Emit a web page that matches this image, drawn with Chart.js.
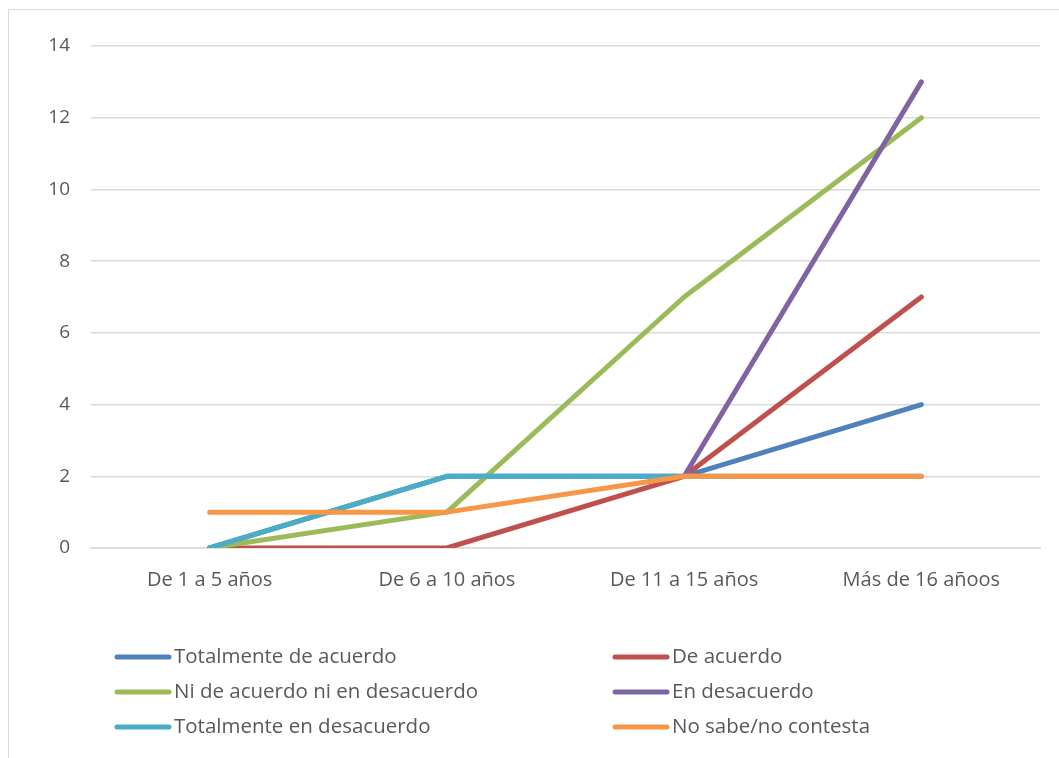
<!DOCTYPE html>
<html>
<head>
<meta charset="utf-8">
<script src="https://cdn.jsdelivr.net/npm/chart.js@4"></script>
<style>
  body { margin: 0; background: #fff; }
  #wrap { position: relative; width: 1059px; height: 758px; overflow: hidden; }
  #frame { position: absolute; left: 8px; top: 9px; width: 1100px; height: 800px; border: 1px solid #d9d9d9; }
  canvas { position: absolute; left: 0; top: 0; }
</style>
</head>
<body>
<div id="wrap">
  <div id="frame"></div>
  <canvas id="lineChart" width="1059" height="758"></canvas>
</div>
<script>
// Antigüedad en años y respuestas por grado de acuerdo
const categories = ['De 1 a 5 años', 'De 6 a 10 años', 'De 11 a 15 años', 'Más de 16 añoos'];
const seriesNames = [
    'Totalmente de acuerdo',
    'De acuerdo',
    'Ni de acuerdo ni en desacuerdo',
    'En desacuerdo',
    'Totalmente en desacuerdo',
    'No sabe/no contesta'
];
const totalmenteDeAcuerdo = [0, 2, 2, 4];
const deAcuerdo = [0, 0, 2, 7];
const niDeAcuerdo = [0, 1, 7, 12];
const enDesacuerdo = [null, null, 2, 13];
const totalmenteEnDesacuerdo = [0, 2, 2, 2];
const noSabe = [1, 1, 2, 2];
const yTicks = [0, 2, 4, 6, 8, 10, 12, 14];

const seriesValues = [totalmenteDeAcuerdo, deAcuerdo, niDeAcuerdo, enDesacuerdo, totalmenteEnDesacuerdo, noSabe];
const colors = ['#4F81BD', '#C0504D', '#9BBB59', '#8064A2', '#4BACC6', '#F79646'];
const textColor = '#595959';
const fontFamily = "'Open Sans', 'Liberation Sans', sans-serif";

// Leyenda en dos columnas debajo del gráfico
const legendPlugin = {
    id: 'twoColLegend',
    afterDraw(chart) {
        const ctx = chart.ctx;
        const cols = [115, 613];
        const rows = [657, 692, 727];
        ctx.save();
        ctx.font = '20.5px ' + fontFamily;
        ctx.textBaseline = 'middle';
        ctx.lineCap = 'round';
        chart.data.datasets.forEach((ds, i) => {
            const x = cols[i % 2];
            const y = rows[Math.floor(i / 2)];
            ctx.strokeStyle = ds.borderColor;
            ctx.lineWidth = 5;
            ctx.beginPath();
            ctx.moveTo(x + 2, y);
            ctx.lineTo(x + 54, y);
            ctx.stroke();
            ctx.fillStyle = textColor;
            ctx.fillText(ds.label, x + 59, y);
        });
        ctx.restore();
    }
};

const datasets = seriesNames.map((name, i) => ({
    label: name,
    data: seriesValues[i],
    borderColor: colors[i],
    backgroundColor: colors[i],
    borderWidth: 5,
    borderCapStyle: 'round',
    borderJoinStyle: 'round',
    pointRadius: 0,
    tension: 0,
    fill: false,
    spanGaps: false,
    order: seriesNames.length - i
}));

new Chart(document.getElementById('lineChart').getContext('2d'), {
    type: 'line',
    data: { labels: categories, datasets: datasets },
    options: {
        responsive: false,
        animation: false,
        layout: { padding: { left: 0, right: 19, top: 46, bottom: 0 } },
        scales: {
            x: {
                offset: true,
                grid: { display: false, drawTicks: false },
                border: { display: true, color: '#d9d9d9', width: 1.5 },
                ticks: {
                    color: textColor,
                    padding: 20,
                    font: { family: fontFamily, size: 20 },
                    maxRotation: 0
                },
                afterFit: (axis) => { axis.height = 210; }
            },
            y: {
                min: 0,
                max: 14,
                afterBuildTicks: (axis) => { axis.ticks = yTicks.map(v => ({ value: v })); },
                grid: { color: '#d9d9d9', lineWidth: 1.5, drawTicks: false },
                border: { display: false },
                ticks: {
                    color: textColor,
                    padding: 21,
                    font: { family: fontFamily, size: 19 }
                },
                afterFit: (axis) => { axis.width = 91; }
            }
        },
        plugins: {
            legend: { display: false },
            tooltip: { enabled: false }
        }
    },
    plugins: [legendPlugin]
});
</script>
</body>
</html>
